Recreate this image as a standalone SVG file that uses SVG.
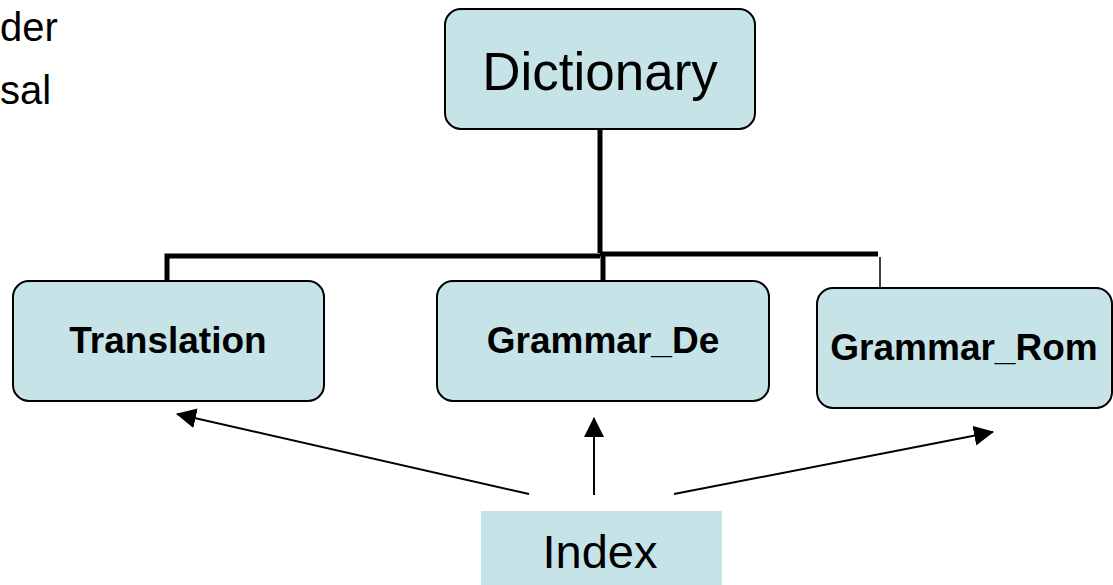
<svg xmlns="http://www.w3.org/2000/svg" width="1113" height="585" viewBox="0 0 1113 585">
<defs>
<style>
.box{fill:#c6e4e8;stroke:#000;stroke-width:2}
.t{font-family:"Liberation Sans",Arial,sans-serif;fill:#000;text-anchor:middle}
.b{font-weight:bold;font-size:37px}
.thick{stroke:#000;stroke-width:5;fill:none}
</style>
<marker id="ahL" viewBox="0 0 20 20" refX="19" refY="10" markerWidth="20" markerHeight="20" markerUnits="userSpaceOnUse" orient="auto">
<path d="M0,0 L20,10 L0,20 z" fill="#000"/>
</marker>
</defs>
<text class="t" x="0" y="41" style="text-anchor:start;font-size:40px">der</text>
<text class="t" x="0" y="104" style="text-anchor:start;font-size:40px">sal</text>
<g id="connectors">
<path class="thick" d="M600,129 V253"/>
<path class="thick" d="M167,282 V256 H600"/>
<path class="thick" d="M600,254 H878"/>
<path class="thick" d="M603,256 V281"/>
<path d="M880,257 V289" stroke="#000" stroke-width="1.5"/>
<path d="M529,494 L177,414" stroke="#000" stroke-width="2" marker-end="url(#ahL)"/>
<path d="M594,495 V418" stroke="#000" stroke-width="2" marker-end="url(#ahL)"/>
<path d="M674,494 L993,432" stroke="#000" stroke-width="2" marker-end="url(#ahL)"/>
</g>
<g id="dictionary">
<rect class="box" x="445" y="9" width="310" height="120" rx="16"/>
<text class="t" x="600" y="90" style="font-size:53px">Dictionary</text>
</g>
<g id="translation">
<rect class="box" x="13" y="281" width="311" height="120" rx="16"/>
<text class="t b" x="168" y="353">Translation</text>
</g>
<g id="grammar_de">
<rect class="box" x="437" y="281" width="332" height="120" rx="16"/>
<text class="t b" x="603" y="353">Grammar_De</text>
</g>
<g id="grammar_rom">
<rect class="box" x="817" y="288" width="295" height="120" rx="16"/>
<text class="t b" x="964" y="360">Grammar_Rom</text>
</g>
<g id="index">
<rect x="481" y="511" width="241" height="74" fill="#c6e4e8"/>
<text class="t" x="600" y="568" style="font-size:47px">Index</text>
</g>
</svg>
